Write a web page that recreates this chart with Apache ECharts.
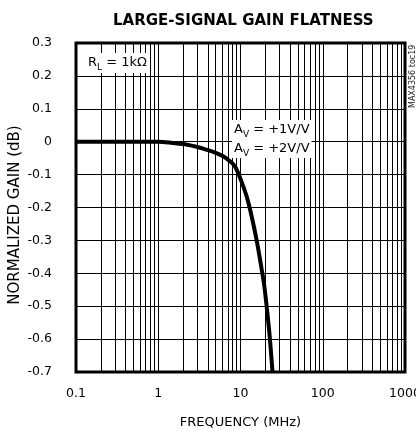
<!DOCTYPE html>
<html>
<head>
<meta charset="utf-8">
<script src="https://cdn.jsdelivr.net/npm/echarts@6/dist/echarts.min.js"></script>
<style>
html,body{margin:0;padding:0;background:#fff;}
#c{width:416px;height:429px;}
</style>
</head>
<body>
<div id="c"></div>
<script>
// ---- data ----
const freqMHz = [0.1, 0.5, 1, 1.5, 2.25, 3.0, 3.93, 5.0, 6.23, 7.5, 8.62, 10.1, 11.9, 13.7, 15.7, 17.6, 19.5, 21.2, 22.8, 24.5];
const gainDB  = [0, 0, 0, -0.004, -0.009, -0.016, -0.025, -0.034, -0.045, -0.06, -0.076, -0.116, -0.167, -0.228, -0.299, -0.37, -0.44, -0.52, -0.60, -0.70];
const minorFreqTicks = [0.2,0.3,0.4,0.5,0.6,0.7,0.8,0.9, 2,3,4,5,6,7,8,9, 20,30,40,50,60,70,80,90, 200,300,400,500,600,700,800,900];
const xTickLabels = ['0.1','1','10','100','1000'];
const yMin = -0.7, yMax = 0.3, yStep = 0.1;

const FONT = 'DejaVu Sans';
const chart = echarts.init(document.getElementById('c'), null, {renderer:'canvas'});

const curve = freqMHz.map((f,i)=>[f, gainDB[i]]);

chart.setOption({
  animation:false,
  backgroundColor:'#fff',
  title:{
    text:'LARGE-SIGNAL GAIN FLATNESS',
    left:108, top:9,
    textStyle:{fontFamily:FONT, fontSize:15, fontWeight:'bold', color:'#000'}
  },
  grid:{left:76, right:11, top:43, bottom:57, containLabel:false, outerBoundsMode:'none',
        show:true, borderColor:'#000', borderWidth:3, backgroundColor:'transparent'},
  xAxis:{
    type:'log', logBase:10, min:0.1, max:1000,
    name:'FREQUENCY (MHz)', nameLocation:'middle', nameGap:44,
    nameTextStyle:{fontFamily:FONT, fontSize:13, color:'#000'},
    axisLine:{show:false}, axisTick:{show:false},
    axisLabel:{margin:15, fontFamily:FONT, fontSize:12.5, color:'#000', hideOverlap:false,
      formatter:function(v){ const e = Math.round(Math.log10(v))+1; return xTickLabels[e] !== undefined ? xTickLabels[e] : ''; }},
    splitLine:{show:true, lineStyle:{color:'#000', width:1}}
  },
  yAxis:{
    type:'value', min:yMin, max:yMax, interval:yStep,
    axisLine:{show:false}, axisTick:{show:false},
    axisLabel:{margin:24, fontFamily:FONT, fontSize:12.5, color:'#000',
      formatter:function(v){ const r = Math.round(v*10)/10; return r===0 ? '0' : r.toFixed(1); }},
    splitLine:{show:true, lineStyle:{color:'#000', width:1}}
  },
  series:[
    {
      type:'line', data:curve, showSymbol:false, silent:true, z:1,
      lineStyle:{opacity:0, width:0},
      markLine:{
        silent:true, symbol:['none','none'], animation:false,
        label:{show:false},
        lineStyle:{color:'#000', width:1, type:'solid'},
        emphasis:{disabled:true},
        data: minorFreqTicks.map(v=>({xAxis:v}))
      }
    },
    {
      type:'line', data:curve, smooth:0.3, showSymbol:false, silent:true, z:5,
      lineStyle:{color:'#000', width:4}, clip:true
    }
  ],
  graphic:[
    {
      type:'text', x:85, y:53, z:10,
      style:{
        text:'{m|R}{s|L}{m| = 1kΩ}',
        backgroundColor:'#fff', padding:[1,3,1,3],
        rich:{
          m:{fontFamily:FONT, fontSize:13, color:'#000', lineHeight:18},
          s:{fontFamily:FONT, fontSize:9, color:'#000', verticalAlign:'bottom'}
        }
      }
    },
    {
      type:'text', x:232, y:120, z:10,
      style:{
        text:'{m|A}{s|V}{m| = +1V/V}\n{m|A}{s|V}{m| = +2V/V}',
        backgroundColor:'#fff', padding:[0,2,0,2],
        rich:{
          m:{fontFamily:FONT, fontSize:13, color:'#000', lineHeight:19},
          s:{fontFamily:FONT, fontSize:9, color:'#000', verticalAlign:'bottom'}
        }
      }
    },
    {
      type:'text', x:15, y:215, rotation:Math.PI/2, z:10,
      style:{text:'NORMALIZED GAIN (dB)', fontFamily:FONT, fontSize:15, fill:'#000', align:'center', verticalAlign:'middle'}
    },
    {
      type:'text', x:413, y:108, rotation:Math.PI/2, z:10,
      style:{text:'MAX4356 toc19', fontFamily:FONT, fontSize:8, fill:'#222', align:'left', verticalAlign:'middle'}
    }
  ]
});
</script>
</body>
</html>
